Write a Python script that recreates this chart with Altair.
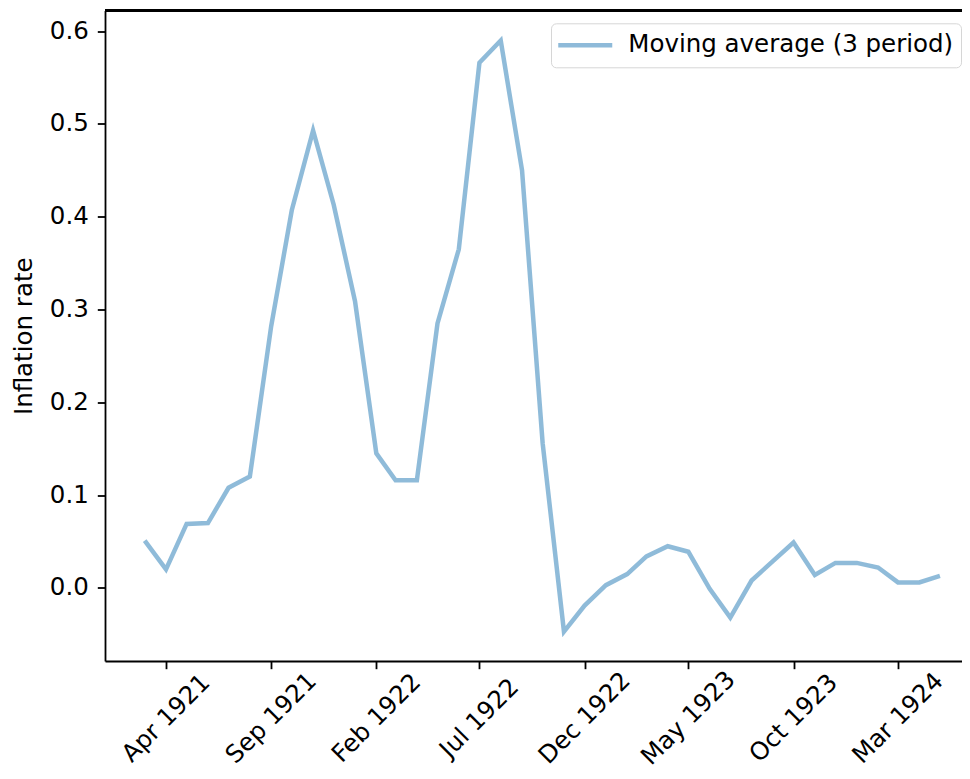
import altair as alt
import pandas as pd
from datetime import datetime, timedelta

# Monthly dates (first of month), Mar 1921 .. May 1924
months = [
    "1921-03-01", "1921-04-01", "1921-05-01", "1921-06-01", "1921-07-01", "1921-08-01",
    "1921-09-01", "1921-10-01", "1921-11-01", "1921-12-01", "1922-01-01", "1922-02-01",
    "1922-03-01", "1922-04-01", "1922-05-01", "1922-06-01", "1922-07-01", "1922-08-01",
    "1922-09-01", "1922-10-01", "1922-11-01", "1922-12-01", "1923-01-01", "1923-02-01",
    "1923-03-01", "1923-04-01", "1923-05-01", "1923-06-01", "1923-07-01", "1923-08-01",
    "1923-09-01", "1923-10-01", "1923-11-01", "1923-12-01", "1924-01-01", "1924-02-01",
    "1924-03-01", "1924-04-01", "1924-05-01",
]
inflation_ma3 = [
    0.051, 0.020, 0.069, 0.070, 0.108, 0.120,
    0.282, 0.407, 0.493, 0.413, 0.309, 0.145,
    0.116, 0.116, 0.285, 0.365, 0.566, 0.590,
    0.450, 0.156, -0.047, -0.019, 0.003, 0.015,
    0.034, 0.045, 0.039, -0.001, -0.032, 0.008,
    0.029, 0.049, 0.014, 0.027, 0.027, 0.022,
    0.006, 0.006, 0.013,
]
series_name = "Moving average (3 period)"
tick_months = [(1921, 4), (1921, 9), (1922, 2), (1922, 7), (1922, 12), (1923, 5), (1923, 10), (1924, 3)]
y_ticks = [0.0, 0.1, 0.2, 0.3, 0.4, 0.5, 0.6]

df = pd.DataFrame({"date": months, "value": inflation_ma3, "series": series_name})

# x domain (utc ms), linear in days like matplotlib
def ms(dt):
    return (dt - datetime(1970, 1, 1)).total_seconds() * 1000.0

px_per_day = 732.0 / 1065.0
plot_w = 857
plot_h = 650.5
left_dt = datetime(1921, 4, 1) - timedelta(days=61.0 / px_per_day)
right_dt = left_dt + timedelta(days=plot_w / px_per_day)
x_domain = [ms(left_dt), ms(right_dt)]
y_domain = [-0.0787, 0.6223]

FONT = "DejaVu Sans"
FS = 24.5

x_enc = alt.X(
    "date:T",
    scale=alt.Scale(type="utc", domain=x_domain),
    axis=alt.Axis(
        values=[alt.DateTime(year=y, month=m, date=1, utc=True) for y, m in tick_months],
        format="%b %Y",
        title=None,
        grid=False,
        labelAngle=-45,
        labelAlign="center",
        labelBaseline="middle",
        labelPadding=49.5,
        labelFont=FONT,
        labelFontSize=FS,
        labelColor="black",
        tickColor="black",
        tickWidth=1.8,
        tickSize=7.7,
        domainColor="black",
        domainWidth=1.8,
        labelOverlap=False,
        labelBound=False,
    ),
)
y_enc = alt.Y(
    "value:Q",
    scale=alt.Scale(domain=y_domain, nice=False, zero=False),
    axis=alt.Axis(
        values=y_ticks,
        format=".1f",
        title="Inflation rate",
        grid=False,
        labelFont=FONT,
        labelFontSize=FS,
        labelColor="black",
        labelPadding=9,
        titleFont=FONT,
        titleFontSize=FS,
        titleFontWeight="normal",
        titleColor="black",
        titlePadding=13,
        tickColor="black",
        tickWidth=1.8,
        tickSize=7.7,
        domainColor="black",
        domainWidth=1.8,
    ),
)

line = alt.Chart(df).mark_line(strokeWidth=4.5, opacity=0.5).encode(
    x=x_enc,
    y=y_enc,
    color=alt.Color(
        "series:N",
        scale=alt.Scale(range=["#1f77b4"]),
        legend=alt.Legend(
            title=None,
            orient="none",
            legendX=446,
            legendY=12.8,
            padding=7,
            clipHeight=30,
            fillColor="white",
            strokeColor="#d6d6d6",
            cornerRadius=5,
            symbolType="stroke",
            symbolSize=2916,
            symbolStrokeWidth=4.5,
            symbolOpacity=0.5,
            symbolOffset=-2.25,
            labelFont=FONT,
            labelFontSize=FS,
            labelColor="black",
            labelOffset=13.5,
            labelLimit=600,
        ),
    ),
)

top_spine = alt.Chart(df).mark_rule(color="black", strokeWidth=1.8).encode(
    x=alt.value(0), x2=alt.value("width"), y=alt.value(0)
)

chart = alt.layer(line, top_spine).properties(
    width=plot_w,
    height=plot_h,
    autosize=alt.AutoSizeParams(type="none"),
    padding={"left": 97, "top": 2.5, "right": 0, "bottom": 110},
).configure_view(stroke=None)

chart.save("out.html", embed_options={"renderer": "svg", "actions": False})
